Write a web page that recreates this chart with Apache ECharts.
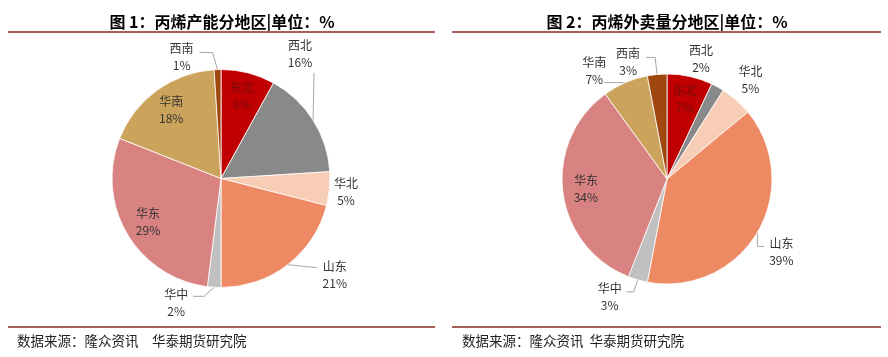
<!DOCTYPE html>
<html><head><meta charset="utf-8">
<script src="https://cdn.jsdelivr.net/npm/echarts@6/dist/echarts.min.js"></script>
<style>html,body{margin:0;padding:0;background:#fff}#c{width:888px;height:357px}</style>
</head><body><div id="c"></div>
<script>
// ---- data ----
const regions1 = ['东北','西北','华北','山东','华中','华东','华南','西南'];
const capacityShare = [8,16,5,21,2,29,18,1];
const regions2 = ['东北','西北','华北','山东','华中','华东','华南','西南'];
const salesShare = [7,2,5,39,3,34,7,3];
const title1 = '图 1：丙烯产能分地区|单位：%';
const title2 = '图 2：丙烯外卖量分地区|单位：%';
const source1 = '数据来源：隆众资讯　华泰期货研究院';
const source2 = '数据来源：隆众资讯  华泰期货研究院';

// ---- styles ----
const FONT = '"Noto Sans CJK SC", "Noto Sans", sans-serif';
const colorMap = {
  '东北':'#C00000','西北':'#898989','华北':'#F8CDB6','山东':'#EE8A63',
  '华中':'#C0C0C0','华东':'#D98282','华南':'#CCA35A','西南':'#A0470F'
};
const insideLabels = [['东北','华南','华东'], ['东北','华东']];
const insideColor = {'东北':'#7A0A0A'};
// label offsets relative to the slice's outer-edge anchor (from the library)
const labelTweaks = [
  {
    '西北': {label:[-13,-66], line:[[0.5,-24],[1,-47]]},
    '西南': {label:[-36,-13], line:[[-5,-17],[-18,-17]]},
    '华北': {label:[16.5,3]},
    '山东': {label:[47,10], line:[[14,1.5],[29,3]]},
    '华中': {label:[-38,16], line:[[-10,9],[-21,9]]}
  },
  {
    '西北': {label:[-16.6,-28.5]},
    '华北': {label:[14,-20]},
    '西南': {label:[-29,-12.5], line:[[-2,-17],[-11,-17]]},
    '华南': {label:[-31,-12], line:[[-10,0],[-21,0]]},
    '山东': {label:[24,19.5], line:[[0,14],[7,14]]},
    '华中': {label:[-28,17], line:[[-4,12],[-11,12]]}
  }
];
const pies = [
  {names: regions1, values: capacityShare, center:[221,178.5], r:109},
  {names: regions2, values: salesShare, center:[667,179], r:105}
];

function mainSeries(p, idx){
  const names = p.names;
  return {
    type:'pie', center:p.center, radius:[0,p.r], startAngle:90, clockwise:true,
    avoidLabelOverlap:false, animation:false, emphasis:{disabled:true},
    itemStyle:{borderColor:'#fff', borderWidth:0.8},
    label:{show:true, position:'outside', formatter:'{b}\n{c}%', fontSize:12, lineHeight:17,
      color:'#333', fontFamily:FONT},
    labelLine:{show:true, length:10, length2:10, smooth:false, lineStyle:{color:'#A6A6A6', width:1}},
    labelLayout: function(params){
      const name = names[params.dataIndex];
      const t = labelTweaks[idx][name];
      if (!t || !params.labelLinePoints) return {};
      const p0 = params.labelLinePoints[0];
      const add = d => [p0[0]+d[0], p0[1]+d[1]];
      return {
        x: p0[0]+t.label[0], y: p0[1]+t.label[1], align:'center', verticalAlign:'middle',
        labelLinePoints: t.line ? [p0.slice(), add(t.line[0]), add(t.line[1])] : [p0.slice(), p0.slice(), p0.slice()]
      };
    },
    data: names.map((n,i)=>{
      const inside = insideLabels[idx].indexOf(n) >= 0;
      return {name:n, value:p.values[i], itemStyle:{color:colorMap[n]},
        label:{show:!inside}, labelLine:{show:!inside}};
    })
  };
}
function overlaySeries(p, idx){
  return {
    type:'pie', center:p.center, radius:[p.r*0.5,p.r], startAngle:90, clockwise:true,
    silent:true, animation:false, avoidLabelOverlap:false, emphasis:{disabled:true}, z:5,
    itemStyle:{color:'rgba(0,0,0,0)', borderWidth:0},
    label:{show:true, position:'inside', formatter:'{b}\n{c}%', fontSize:12, lineHeight:17,
      color:'#333', fontFamily:FONT, rotate:0},
    labelLine:{show:false},
    data: p.names.map((n,i)=>{
      const inside = insideLabels[idx].indexOf(n) >= 0;
      return {name:n, value:p.values[i],
        label:{show:inside, color: insideColor[n] || '#333'}};
    })
  };
}

const lineColor = '#A65F5B';
const chart = echarts.init(document.getElementById('c'), null, {renderer:'canvas'});
chart.setOption({
  backgroundColor:'#fff',
  animation:false,
  graphic:[
    {type:'text', x:222, y:22, style:{text:title1, font:'bold 16px '+FONT, fill:'#000', align:'center', verticalAlign:'middle'}},
    {type:'text', x:667, y:22, style:{text:title2, font:'bold 16px '+FONT, fill:'#000', align:'center', verticalAlign:'middle'}},
    {type:'rect', shape:{x:8, y:31, width:427, height:2}, style:{fill:lineColor}},
    {type:'rect', shape:{x:452, y:31, width:429, height:2}, style:{fill:lineColor}},
    {type:'rect', shape:{x:8, y:326, width:427, height:2}, style:{fill:lineColor}},
    {type:'rect', shape:{x:452, y:326, width:429, height:2}, style:{fill:lineColor}},
    {type:'text', x:17, y:341, style:{text:source1, font:'13.5px '+FONT, fill:'#222', align:'left', verticalAlign:'middle'}},
    {type:'text', x:462, y:341, style:{text:source2, font:'13.5px '+FONT, fill:'#222', align:'left', verticalAlign:'middle'}}
  ],
  series:[mainSeries(pies[0],0), mainSeries(pies[1],1), overlaySeries(pies[0],0), overlaySeries(pies[1],1)]
});
</script></body></html>
